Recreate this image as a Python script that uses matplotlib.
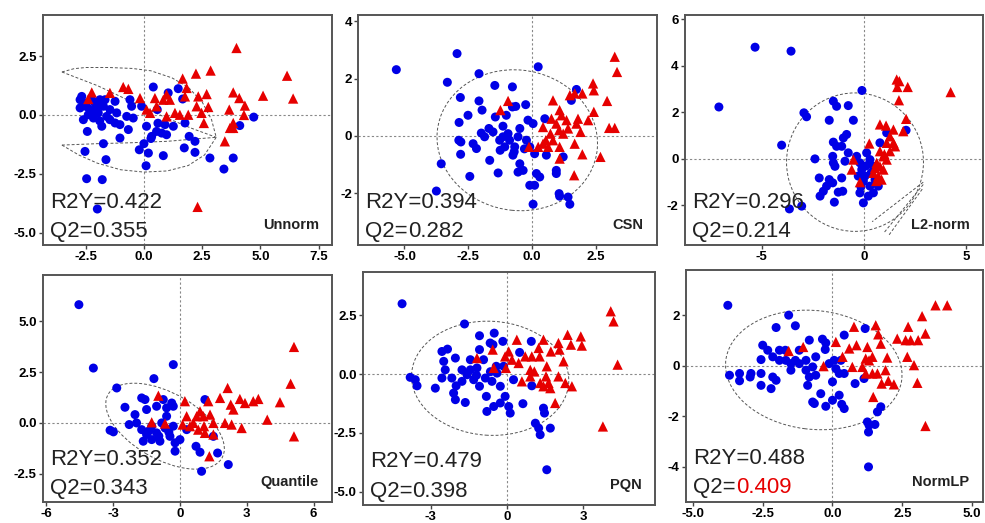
import numpy as np
import matplotlib
matplotlib.use("Agg")
import matplotlib.pyplot as plt
from matplotlib.patches import Ellipse

plt.rcParams["font.family"] = ["Liberation Sans", "DejaVu Sans"]

methods = ["Unnorm", "CSN", "L2-norm", "Quantile", "PQN", "NormLP"]
r2y = ["0.422", "0.394", "0.296", "0.352", "0.479", "0.488"]
q2 = ["0.355", "0.282", "0.214", "0.343", "0.398", "0.409"]

# score points: (t1, t2)
unnorm_blue = [(-2.67, 0.79), (-2.74, 0.3), (-2.53, 0.51), (-2.31, 0.23), (-2.1, 0.51),
               (-1.96, 0.09), (-1.89, 0.65), (-1.74, 0.37), (-1.6, -0.06), (-1.81, -0.48),
               (-1.46, 0.23), (-1.24, 0.58), (-1.17, 0.09), (-1.03, -0.41), (-0.74, -0.06),
               (-0.46, -0.13), (-0.6, 0.65), (-0.53, 0.37), (-0.67, -0.62), (-2.43, -0.7),
               (-2.53, -1.55), (-1.74, -1.22), (-1.03, -0.98), (-1.63, -1.9), (-2.46, -2.71),
               (-1.79, -2.75), (-2.0, -4.0), (-0.2, -1.48), (0.0, -1.22), (0.19, -1.62),
               (0.09, -2.16), (0.11, -0.48), (0.33, -0.91), (0.54, -0.7), (0.76, -0.77),
               (0.9, -0.41), (1.26, -0.48), (0.97, -0.84), (0.83, -1.73), (0.4, 1.19),
               (1.47, 1.12), (1.04, 0.94), (1.66, 0.68), (0.57, 0.23), (-0.1, 0.37),
               (1.76, -0.34), (1.94, -0.91), (1.73, -1.4), (2.19, -1.12), (2.19, -1.59),
               (2.83, -1.83), (3.43, -2.3), (3.83, -1.83), (4.11, -0.45), (4.71, -0.09),
               (-2.6, -0.2), (-2.17, -0.13), (-2.39, 0.01), (-2.03, 0.37), (-2.74, 0.65),
               (-2.24, 0.65), (-1.67, 0.65), (-1.46, -0.2), (-1.24, -0.34), (-2.2, 0.1),
               (-1.9, -0.25), (-2.45, 0.35), (0.3, -1.0), (0.6, -0.35)]
unnorm_red = [(3.97, 2.85), (2.86, 1.89), (2.23, 1.76), (1.66, 1.55), (6.14, 1.67),
              (6.4, 0.7), (5.11, 0.82), (3.83, 0.96), (4.09, 0.72), (4.33, 0.4),
              (4.29, 0.0), (3.66, 0.23), (2.69, 0.89), (2.33, 0.79), (2.26, 0.37),
              (2.76, 0.34), (2.47, 0.09), (2.57, -0.34), (1.83, 1.15), (1.76, 0.79),
              (1.9, 0.01), (1.54, 0.01), (1.33, 0.09), (1.11, 0.65), (0.97, 0.87),
              (0.83, 0.65), (0.47, 0.72), (0.11, 0.23), (-0.17, 0.72), (0.26, 0.09),
              (-0.67, 1.11), (-0.89, 1.19), (-1.46, 0.94), (-2.24, 0.96), (-2.39, 0.68),
              (3.83, -0.34), (3.83, -0.55), (3.69, -0.55), (3.47, -1.12), (2.3, -3.91),
              (0.97, -0.06), (0.54, 0.37)]

csn_blue = [(-5.32, 2.31), (-2.94, 2.87), (-3.32, 1.87), (-2.08, 2.17), (-1.46, 1.76),
            (-0.77, 1.71), (0.24, 2.41), (-2.81, 1.34), (-2.08, 1.22), (-1.96, 0.9),
            (-2.51, 0.72), (-2.86, 0.47), (-1.44, 0.66), (-1.01, 0.72), (-0.77, 1.01),
            (-0.64, 1.03), (-0.25, 1.09), (-1.14, 0.34), (-1.69, 0.26), (-1.99, 0.1),
            (-1.86, -0.03), (-1.53, 0.14), (-2.87, -0.15), (-2.79, -0.21), (-2.31, -0.27),
            (-2.18, -0.44), (-2.8, -0.64), (-3.56, -0.97), (-2.44, -1.41), (-1.66, -0.85),
            (-1.33, -1.29), (-1.27, -0.15), (-1.07, -0.38), (-0.88, -0.15), (-0.68, -0.38),
            (-0.48, 0.26), (-0.55, -0.03), (-0.22, -0.15), (-0.75, -0.67), (-0.48, -0.97),
            (-0.55, -1.26), (-0.35, -1.2), (-0.16, 0.55), (0.04, 0.43), (-0.09, -0.38),
            (0.1, -0.62), (0.17, -1.31), (0.3, -1.43), (-0.09, -1.72), (0.1, -1.72),
            (0.04, -2.38), (0.5, 0.6), (0.56, -0.67), (0.95, -1.2), (0.95, -1.31),
            (1.22, -0.73), (1.06, -2.01), (1.08, -2.1), (1.41, -2.13), (1.48, -2.38),
            (1.54, 1.24), (1.74, 1.62), (-3.75, -1.92), (-0.94, 0.08), (-1.14, -0.03),
            (-0.3, -0.45), (-0.7, -0.55), (-1.25, -0.5)]
csn_red = [(-0.94, 1.22), (-1.24, 0.9), (-0.12, -0.38), (0.24, -0.38), (0.43, 0.31),
           (0.54, -0.15), (0.72, 0.08), (0.82, 1.24), (0.76, 0.6), (0.95, 0.43),
           (1.08, 0.9), (1.15, 0.72), (1.06, 0.2), (1.22, 0.08), (1.08, -0.38),
           (1.08, -0.79), (1.48, 1.42), (1.67, 1.48), (1.97, 1.48), (2.39, 1.83),
           (2.42, 1.59), (2.94, 1.22), (2.42, 0.84), (2.2, 0.55), (1.8, 0.6),
           (1.74, 0.43), (1.41, 0.26), (1.9, 0.14), (1.67, -0.27), (1.97, -0.64),
           (2.68, -0.73), (1.65, -1.37), (3.24, 2.76), (3.33, 2.23), (3.02, 0.28),
           (3.24, 0.28), (0.63, -0.38), (0.43, -0.27), (0.82, -0.15), (1.35, 0.55)]

l2_blue = [(-5.33, 4.8), (-3.57, 4.63), (-7.1, 2.23), (-4.03, 0.59), (-0.1, 2.94),
           (-1.5, 2.48), (-1.34, 2.26), (-0.77, 2.29), (-2.94, 1.98), (-2.81, 1.81),
           (-1.7, 1.66), (-0.52, 1.66), (-0.85, 1.05), (-1.01, 0.9), (-1.5, 0.72),
           (-1.34, 0.54), (-1.09, 0.54), (-2.4, 0.0), (-1.53, 0.11), (-1.5, -0.17),
           (-1.42, -0.32), (-0.93, -0.1), (-0.77, 0.26), (-2.19, -0.82), (-1.7, -0.89),
           (-1.53, -1.03), (-1.09, -0.82), (-1.83, -1.17), (-1.99, -1.39), (-1.26, -1.43),
           (-1.04, -1.39), (-2.15, -1.6), (-1.45, -1.86), (-3.65, -2.15), (-3.05, -2.03),
           (-0.36, 0.11), (-0.2, -0.17), (-0.11, -0.46), (-0.28, -0.74), (-0.03, -0.96),
           (-0.2, -1.46), (-0.03, -1.89), (0.21, -1.6), (0.46, -1.46), (0.7, -1.17),
           (0.13, 0.26), (0.29, -0.03), (0.46, -0.32), (0.78, 0.69), (1.11, 1.12),
           (2.06, 1.23), (0.05, -0.74), (0.29, -1.17), (0.54, -0.89), (0.1, -0.3),
           (0.35, -0.6), (-0.15, -1.2)]
l2_red = [(1.6, 3.41), (1.73, 3.34), (1.63, 3.09), (2.14, 3.09), (4.24, 2.87),
          (1.71, 2.52), (2.06, 1.72), (0.78, 1.48), (1.08, 1.43), (1.44, 1.26),
          (1.92, 1.19), (1.27, 0.97), (1.11, 0.69), (1.52, 0.54), (0.26, 0.66),
          (-0.52, -0.03), (-0.6, -0.46), (-0.2, -1.0), (0.78, 0.33), (0.95, 0.11),
          (0.62, -0.17), (0.78, -0.32), (0.46, -0.6), (0.7, -0.74), (0.86, -0.89),
          (1.11, -0.03), (1.27, 0.33), (1.44, 0.69), (0.95, -0.46), (0.54, -0.39),
          (1.0, 0.2), (0.6, -0.95)]

quantile_blue = [(-4.54, 5.82), (-3.89, 2.7), (-0.3, 2.87), (-1.17, 2.18), (-2.84, 1.72),
                 (-2.47, 0.77), (-3.14, -0.36), (-2.99, -0.44), (-2.02, 0.41), (-1.72, 1.23),
                 (-1.57, 1.15), (-1.5, 0.66), (-1.05, 0.82), (-0.75, 1.15), (-0.6, 0.74),
                 (-0.37, 0.98), (-0.3, 0.82), (-2.28, -0.08), (-1.95, 0.0), (-1.72, -0.33),
                 (-1.5, -0.57), (-1.65, -0.9), (-1.27, -0.16), (-1.05, -0.49), (-0.9, -0.9),
                 (-0.67, -0.25), (-0.45, -0.66), (-0.22, -0.98), (-0.22, -1.39), (0.0, -0.82),
                 (-1.27, -0.82), (-0.6, 0.33), (1.12, 1.15), (0.72, -1.15), (0.9, -1.44),
                 (1.69, -1.48), (2.17, -2.05), (0.97, -2.38), (1.5, -0.66), (0.3, -0.33),
                 (-0.3, -0.16), (-0.82, 0.0), (-1.4, -0.4), (-0.95, -0.65), (-0.5, -0.45)]
quantile_red = [(-0.97, 1.34), (-1.27, 0.03), (-0.67, -0.03), (0.22, 1.07), (0.12, -0.08),
                (0.3, 0.33), (0.45, -0.16), (0.75, 0.33), (0.9, 0.57), (1.05, 0.33),
                (1.27, 1.07), (1.08, -0.16), (1.35, 0.41), (1.5, 0.0), (1.12, -0.49),
                (1.5, -0.57), (1.32, -1.64), (1.8, 1.23), (2.14, 1.72), (2.28, 0.9),
                (2.4, 0.66), (2.69, 1.18), (2.92, 0.98), (3.29, 1.07), (3.52, 1.18),
                (4.49, 1.02), (4.97, 1.93), (5.12, 3.74), (3.92, 0.16), (2.77, -0.25),
                (2.32, -0.08), (2.02, 0.0), (5.12, -0.66), (0.6, 0.0), (0.82, -0.33)]

pqn_blue = [(-4.13, 2.99), (-1.67, 2.13), (-3.81, -0.14), (-3.61, -0.24), (-3.54, -0.5),
            (-2.56, 0.96), (-2.34, 1.06), (-2.49, 0.54), (-2.03, 0.68), (-2.43, 0.18),
            (-2.82, -0.6), (-2.56, -0.17), (-2.17, -0.17), (-2.0, -0.5), (-2.1, -0.81),
            (-2.03, -1.09), (-1.64, -1.21), (-1.77, 0.18), (-1.57, -0.03), (-1.44, 0.18),
            (-1.44, 0.61), (-1.08, 1.63), (-1.08, 1.04), (-1.18, 0.26), (-1.31, -0.24),
            (-1.08, -0.52), (-0.81, -0.95), (-0.79, -1.59), (-0.52, -1.38), (-0.5, 1.74),
            (-0.55, 1.25), (-0.16, 1.39), (-0.66, 1.32), (-0.85, -0.17), (-0.59, -0.31),
            (-0.39, 0.04), (-0.26, -0.52), (-0.07, -0.95), (0.07, -1.38), (0.13, -1.66),
            (-0.26, -1.23), (-0.42, 0.33), (-0.13, 0.33), (0.26, -0.24), (0.5, 0.92),
            (0.63, -1.26), (0.96, 1.39), (0.98, -0.5), (1.44, -1.45), (1.48, -1.66),
            (1.12, -2.09), (1.25, -2.3), (1.31, -2.58), (1.71, -2.3), (1.57, -4.07),
            (-0.92, 0.61), (-1.77, -0.31), (-1.2, -0.05), (-0.65, 0.1)]
pqn_red = [(-1.18, 0.68), (-0.56, 1.04), (-0.52, 0.26), (-0.07, 0.75), (0.07, 0.96),
           (0.2, 0.61), (0.39, 1.46), (0.46, 0.47), (0.59, -0.31), (-0.04, 0.26),
           (0.72, 0.75), (0.98, 0.75), (1.44, 1.46), (1.25, 1.11), (1.29, 0.75),
           (0.92, 0.18), (1.08, 0.11), (0.92, -0.1), (1.57, 0.33), (1.54, -0.1),
           (1.44, -0.52), (1.64, -0.38), (1.73, 0.96), (2.03, 1.32), (2.07, 1.04),
           (2.23, 0.54), (2.03, -0.1), (2.39, 1.67), (2.52, 1.25), (2.91, 1.6),
           (2.95, 1.21), (2.3, -0.38), (2.56, -0.52), (1.9, -1.23), (3.78, -2.23),
           (4.09, 2.67), (4.2, 2.24), (4.36, 0.4), (1.71, -0.6), (1.31, -0.38)]

normlp_blue = [(-3.75, 2.4), (-1.57, 2.01), (-2.02, 1.52), (-1.33, 1.59), (-2.5, 0.82),
               (-2.32, 0.62), (-3.69, -0.37), (-3.33, -0.3), (-3.33, -0.59), (-2.92, -0.3),
               (-2.95, -0.44), (-2.56, -0.3), (-2.56, -0.77), (-2.2, -0.9), (-2.14, -0.44),
               (-2.02, -0.57), (-2.56, 0.25), (-2.14, 0.36), (-1.9, 0.62), (-1.69, 0.62),
               (-1.9, 0.22), (-1.67, 0.22), (-1.49, 0.09), (-1.33, 0.22), (-1.19, 0.62),
               (-0.83, 1.02), (-0.95, 0.22), (-0.95, -0.17), (-0.83, -0.44), (-0.71, -0.04),
               (-0.6, 0.36), (-0.36, 1.06), (-0.24, 0.91), (-0.26, 0.65), (-0.6, -0.37),
               (-0.89, -0.77), (-0.42, -1.1), (-0.71, -1.43), (-0.65, -1.49), (-0.24, -1.6),
               (0.0, -1.36), (0.24, -1.16), (0.33, -1.52), (0.42, -1.69), (0.0, -0.63),
               (-0.12, 0.09), (0.06, 0.22), (0.12, -0.11), (0.24, -0.3), (0.3, 0.22),
               (0.42, 1.22), (0.42, -0.3), (0.81, -0.7), (1.13, -0.5), (1.17, 1.48),
               (1.73, -1.62), (1.61, -1.82), (1.25, -2.22), (1.31, -2.35), (1.29, -2.62),
               (1.52, -2.32), (1.29, -4.0), (-1.19, 0.09), (-1.49, -0.17)]
normlp_red = [(-1.57, 0.59), (-1.05, 0.75), (-0.32, -0.01), (0.12, 0.95), (0.36, 0.36),
              (0.6, 0.69), (0.71, -0.04), (0.77, 1.55), (0.86, 0.82), (1.19, 0.29),
              (1.25, 0.75), (1.07, -0.04), (1.19, -0.3), (1.43, 0.36), (1.43, -0.3),
              (1.55, 1.61), (1.64, 1.25), (1.73, 0.88), (1.61, -0.3), (1.76, -0.7),
              (1.9, -0.17), (1.96, 0.33), (2.0, -0.59), (2.2, -0.73), (1.46, -1.23),
              (2.32, 1.08), (2.62, 1.02), (2.71, 1.55), (2.8, 1.02), (3.07, 1.02),
              (2.68, 0.36), (2.92, 0.03), (3.04, -0.67), (3.21, 1.97), (3.33, 1.28),
              (3.69, 2.4), (4.11, 2.4), (3.33, -2.38), (1.31, 0.22)]

# confidence outlines: centre x, centre y, width, height, angle (None = traced outline)
ellipses = [None, (-0.58, -0.15, 6.3, 4.9, -5),
            (-0.44, -0.14, 6.7, 5.95, 0), (-0.67, -0.16, 6.0, 3.2, -33),
            (-0.66, -0.18, 6.2, 4.85, -4), (-0.67, -0.16, 6.35, 4.7, -8)]

# Unnorm outline is a pinched two-lobed curve
unnorm_outline_top = [(-3.52, 1.83), (-3.0, 1.97), (-2.5, 2.02), (-1.5, 2.02), (-0.5, 1.98),
                      (0.3, 1.88), (1.2, 1.58), (1.9, 1.18), (2.5, 0.55), (2.9, -0.2),
                      (3.1, -0.95)]
unnorm_outline_mid_a = [(-3.52, 1.83), (-2.0, 1.25), (-0.5, 0.55), (0.8, -0.05), (2.0, -0.55),
                        (3.1, -0.95)]
unnorm_outline_mid_b = [(-3.52, -1.28), (-2.0, -1.22), (-0.5, -1.18), (1.0, -1.12), (2.2, -1.02),
                        (3.1, -0.95)]
unnorm_outline_bot = [(-3.52, -1.28), (-2.8, -1.7), (-2.0, -2.05), (-1.0, -2.33), (0.0, -2.43),
                      (1.0, -2.38), (1.9, -2.15), (2.6, -1.7), (3.1, -0.95)]
# L2-norm: extra fan of dashed lines at the lower right
l2_fan = [[(2.9, -1.0), (0.4, -2.7)], [(2.9, -1.1), (1.0, -3.15)], [(2.85, -1.3), (1.2, -3.3)]]

xticks = [[-2.5, 0.0, 2.5, 5.0, 7.5], [-5.0, -2.5, 0.0, 2.5], [-5, 0, 5],
          [-6, -3, 0, 3, 6], [-3, 0, 3], [-5.0, -2.5, 0.0, 2.5, 5.0]]
yticks = [[-5.0, -2.5, 0.0, 2.5], [-2, 0, 2, 4], [-2, 0, 2, 4, 6],
          [-2.5, 0.0, 2.5, 5.0], [-5.0, -2.5, 0.0, 2.5], [-4, -2, 0, 2]]
xfmt = ["{:.1f}", "{:.1f}", "{:.0f}", "{:.0f}", "{:.0f}", "{:.1f}"]
yfmt = ["{:.1f}", "{:.0f}", "{:.0f}", "{:.1f}", "{:.1f}", "{:.0f}"]
xlims = [(-4.33, 8.07), (-6.82, 4.9), (-8.76, 5.82), (-6.15, 6.83), (-5.67, 5.83), (-5.25, 5.39)]
ylims = [(-5.53, 4.26), (-3.8, 4.22), (-3.7, 6.19), (-3.89, 7.28), (-5.57, 4.34), (-5.39, 3.8)]

blues = [unnorm_blue, csn_blue, l2_blue, quantile_blue, pqn_blue, normlp_blue]
reds = [unnorm_red, csn_red, l2_red, quantile_red, pqn_red, normlp_red]

positions = [(0.0437, 0.5316, 0.2934, 0.440), (0.3635, 0.5316, 0.3036, 0.440),
             (0.6954, 0.5316, 0.3025, 0.440), (0.0437, 0.0402, 0.2934, 0.434),
             (0.3685, 0.0344, 0.2964, 0.4455), (0.6964, 0.0402, 0.3015, 0.4436)]

outline_kw = dict(color="#555555", lw=0.7, ls=(0, (3, 2)), zorder=2)

fig = plt.figure(figsize=(9.85, 5.23), dpi=100)

for i in range(6):
    ax = fig.add_axes(positions[i])
    b = np.array(blues[i])
    r = np.array(reds[i])
    ax.axhline(0, color="#888888", lw=0.8, ls=(0, (2, 2)), zorder=1)
    ax.axvline(0, color="#888888", lw=0.8, ls=(0, (2, 2)), zorder=1)
    if ellipses[i] is None:
        for seg in [unnorm_outline_top, unnorm_outline_mid_a,
                    unnorm_outline_mid_b, unnorm_outline_bot]:
            s = np.array(seg)
            ax.plot(s[:, 0], s[:, 1], **outline_kw)
    else:
        cx, cy, w, h, ang = ellipses[i]
        ax.add_patch(Ellipse((cx, cy), w, h, angle=ang, fill=False,
                             edgecolor="#555555", lw=0.7, ls=(0, (3, 2)), zorder=2))
    if methods[i] == "L2-norm":
        for seg in l2_fan:
            s = np.array(seg)
            ax.plot(s[:, 0], s[:, 1], **outline_kw)
    ax.scatter(b[:, 0], b[:, 1], s=42, marker="o", color="#0000e6",
               edgecolors="none", zorder=3)
    ax.scatter(r[:, 0], r[:, 1], s=55, marker="^", color="#e60000",
               edgecolors="none", zorder=4)
    ax.set_xlim(xlims[i])
    ax.set_ylim(ylims[i])
    ax.set_xticks(xticks[i])
    ax.set_xticklabels([xfmt[i].format(v) for v in xticks[i]])
    ax.set_yticks(yticks[i])
    ax.set_yticklabels([yfmt[i].format(v) for v in yticks[i]])
    ax.tick_params(labelsize=9.5, length=3, width=1, pad=1.5, color="#444444")
    for lab in ax.get_xticklabels() + ax.get_yticklabels():
        lab.set_fontweight("bold")
    for sp in ax.spines.values():
        sp.set_color("#555555")
        sp.set_linewidth(1.4)

    ax.text(0.024, 0.14, "R2Y=" + r2y[i], transform=ax.transAxes,
            fontsize=16, color="#222222", va="bottom", ha="left", zorder=5)
    t = ax.text(0.024, 0.015, "Q2=", transform=ax.transAxes,
                fontsize=16, color="#222222", va="bottom", ha="left", zorder=5)
    qcol = "#e60000" if methods[i] == "NormLP" else "#222222"
    ax.annotate(q2[i], xy=(1, 0), xycoords=t, fontsize=16, color=qcol,
                va="bottom", ha="left", zorder=5)
    ax.text(0.955, 0.055, methods[i], transform=ax.transAxes,
            fontsize=10.5, fontweight="bold", color="#222222",
            va="bottom", ha="right", zorder=5)

fig.savefig("out.png", dpi=100)
